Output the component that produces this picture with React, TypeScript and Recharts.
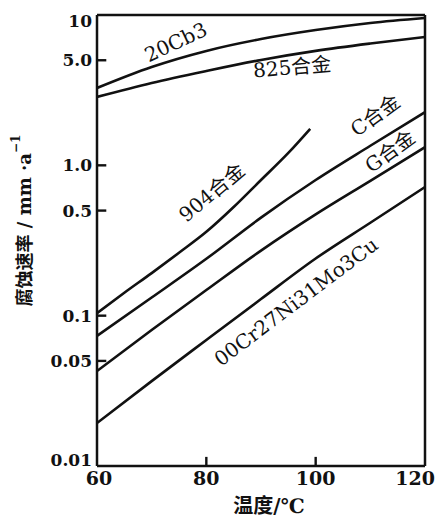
import React from 'react';
import { LineChart, Line, XAxis, YAxis, ReferenceLine, ReferenceDot, Label } from 'recharts';

const temps = [60, 70, 80, 90, 100, 110, 120];
const cb3 = [3.27, 4.51, 5.77, 6.92, 7.94, 8.85, 9.55];
const a825 = [2.85, 3.53, 4.24, 5.02, 5.77, 6.46, 7.14];
const cAlloy = [0.0733, 0.132, 0.239, 0.449, 0.799, 1.35, 2.26];
const gAlloy = [0.0428, 0.0803, 0.148, 0.271, 0.472, 0.789, 1.32];
const cr27 = [0.0193, 0.0367, 0.0689, 0.129, 0.24, 0.415, 0.718];
const temps904 = [60, 65, 70, 75, 80, 85, 90, 95, 99];
const a904 = [0.104, 0.142, 0.192, 0.262, 0.361, 0.528, 0.799, 1.21, 1.75];

const xTicks = [60, 80, 100, 120];
const yTicks = [0.01, 0.05, 0.1, 0.5, 1, 5, 10];
const yTickLabels = ['0.01', '0.05', '0.1', '0.5', '1.0', '5.0', '10'];
const innerYTicks = [0.05, 0.1, 0.5, 1, 5];
const innerXTicks = [80, 100];

const curveLabels = [
  { text: '20Cb3', x: 74.4, y: 6.6, angle: -25 },
  { text: '825合金', x: 95.7, y: 4.5, angle: -5 },
  { text: '904合金', x: 81.0, y: 0.66, angle: -40 },
  { text: 'C合金', x: 110.9, y: 2.15, angle: -36 },
  { text: 'G合金', x: 113.6, y: 1.24, angle: -36 },
  { text: '00Cr27Ni31Mo3Cu', x: 96.4, y: 0.124, angle: -37 },
];

const mk = (xs: number[], ys: number[]) => xs.map((t, i) => ({ t, v: ys[i] }));

const FONT = '"DejaVu Serif", "Noto Sans CJK SC", serif';
const INK = '#111';

const YTick = (props: any) => {
  const { x, y, payload } = props;
  const v = payload.value;
  const idx = yTicks.indexOf(v);
  const dy = v === 10 ? 6 : v === 0.01 ? -6 : 0;
  return (
    <text
      x={x}
      y={y + dy}
      textAnchor="end"
      dominantBaseline="central"
      fontFamily={FONT}
      fontWeight="bold"
      fontSize={17}
      fill={INK}
    >
      {idx >= 0 ? yTickLabels[idx] : String(v)}
    </text>
  );
};

const XTick = (props: any) => {
  const { x, y, payload } = props;
  const v = payload.value;
  const isLast = v === 120;
  return (
    <text
      x={isLast ? x + 10 : v === 60 ? x + 2 : x}
      y={y + 19}
      textAnchor={isLast ? 'end' : 'middle'}
      fontFamily={FONT}
      fontWeight="bold"
      fontSize={19}
      fill={INK}
    >
      {String(v)}
    </text>
  );
};

const YLabel = (props: any) => {
  const vb = props.viewBox || { x: 0, y: 0, width: 0, height: 0 };
  const cx = vb.x + 24;
  const cy = vb.y + vb.height / 2 - 20;
  return (
    <text
      x={cx}
      y={cy}
      transform={`rotate(-90, ${cx}, ${cy})`}
      textAnchor="middle"
      dominantBaseline="central"
      fontFamily={FONT}
      fontWeight="bold"
      fontSize={18}
      fill={INK}
    >
      腐蚀速率 / mm ·a<tspan dy={-8} fontSize={12}>−1</tspan>
    </text>
  );
};

const XLabel = (props: any) => {
  const vb = props.viewBox || { x: 0, y: 0, width: 0, height: 0 };
  const cx = vb.x + vb.width / 2 + 8;
  const cy = vb.y + 47;
  return (
    <text x={cx} y={cy} textAnchor="middle" fontFamily={FONT} fontWeight="bold" fontSize={20} fill={INK}>
      温度/℃
    </text>
  );
};

export default function App() {
  return (
    <div style={{ position: 'fixed', left: 0, top: 0, background: '#fff' }}>
      <LineChart width={435} height={518} margin={{ top: 15, right: 10, bottom: 8, left: 0 }}>
        <XAxis
          dataKey="t"
          type="number"
          domain={[60, 120]}
          ticks={xTicks}
          allowDataOverflow
          stroke={INK}
          strokeWidth={2.5}
          tickLine={false}
          tickSize={0}
          tickMargin={0}
          height={44}
          interval={0}
          tick={<XTick />}
          label={<Label content={XLabel} />}
        />
        <YAxis
          type="number"
          scale="log"
          domain={[0.01, 10]}
          ticks={yTicks}
          allowDataOverflow
          width={97}
          stroke={INK}
          strokeWidth={2.5}
          tickLine={false}
          tickSize={0}
          tickMargin={5}
          interval={0}
          tick={<YTick />}
          label={<Label content={YLabel} />}
        />
        <ReferenceLine y={10} stroke={INK} strokeWidth={2.5} />
        <ReferenceLine x={120} stroke={INK} strokeWidth={2.5} />
        {innerYTicks.map((v) => (
          <ReferenceLine
            key={'yt' + v}
            ifOverflow="visible"
            segment={[
              { x: 60, y: v },
              { x: 61.7, y: v },
            ]}
            stroke={INK}
            strokeWidth={2.4}
          />
        ))}
        {innerXTicks.map((v) => (
          <ReferenceLine
            key={'xt' + v}
            ifOverflow="visible"
            segment={[
              { x: v, y: 0.01 },
              { x: v, y: 0.0115 },
            ]}
            stroke={INK}
            strokeWidth={2.4}
          />
        ))}
        <Line data={mk(temps, cb3)} dataKey="v" type="monotone" stroke={INK} strokeWidth={2.6} dot={false} isAnimationActive={false} />
        <Line data={mk(temps, a825)} dataKey="v" type="monotone" stroke={INK} strokeWidth={2.6} dot={false} isAnimationActive={false} />
        <Line data={mk(temps904, a904)} dataKey="v" type="monotone" stroke={INK} strokeWidth={2.6} dot={false} isAnimationActive={false} />
        <Line data={mk(temps, cAlloy)} dataKey="v" type="monotone" stroke={INK} strokeWidth={2.6} dot={false} isAnimationActive={false} />
        <Line data={mk(temps, gAlloy)} dataKey="v" type="monotone" stroke={INK} strokeWidth={2.6} dot={false} isAnimationActive={false} />
        <Line data={mk(temps, cr27)} dataKey="v" type="monotone" stroke={INK} strokeWidth={2.6} dot={false} isAnimationActive={false} />
        {curveLabels.map((l) => (
          <ReferenceDot
            key={l.text}
            x={l.x}
            y={l.y}
            r={0}
            ifOverflow="visible"
            shape={(p: any) => (
              <text
                x={p.cx}
                y={p.cy}
                transform={`rotate(${l.angle}, ${p.cx}, ${p.cy})`}
                textAnchor="middle"
                dominantBaseline="central"
                fontFamily={FONT}
                fontSize={20}
                fill={INK}
              >
                {l.text}
              </text>
            )}
          />
        ))}
      </LineChart>
    </div>
  );
}
